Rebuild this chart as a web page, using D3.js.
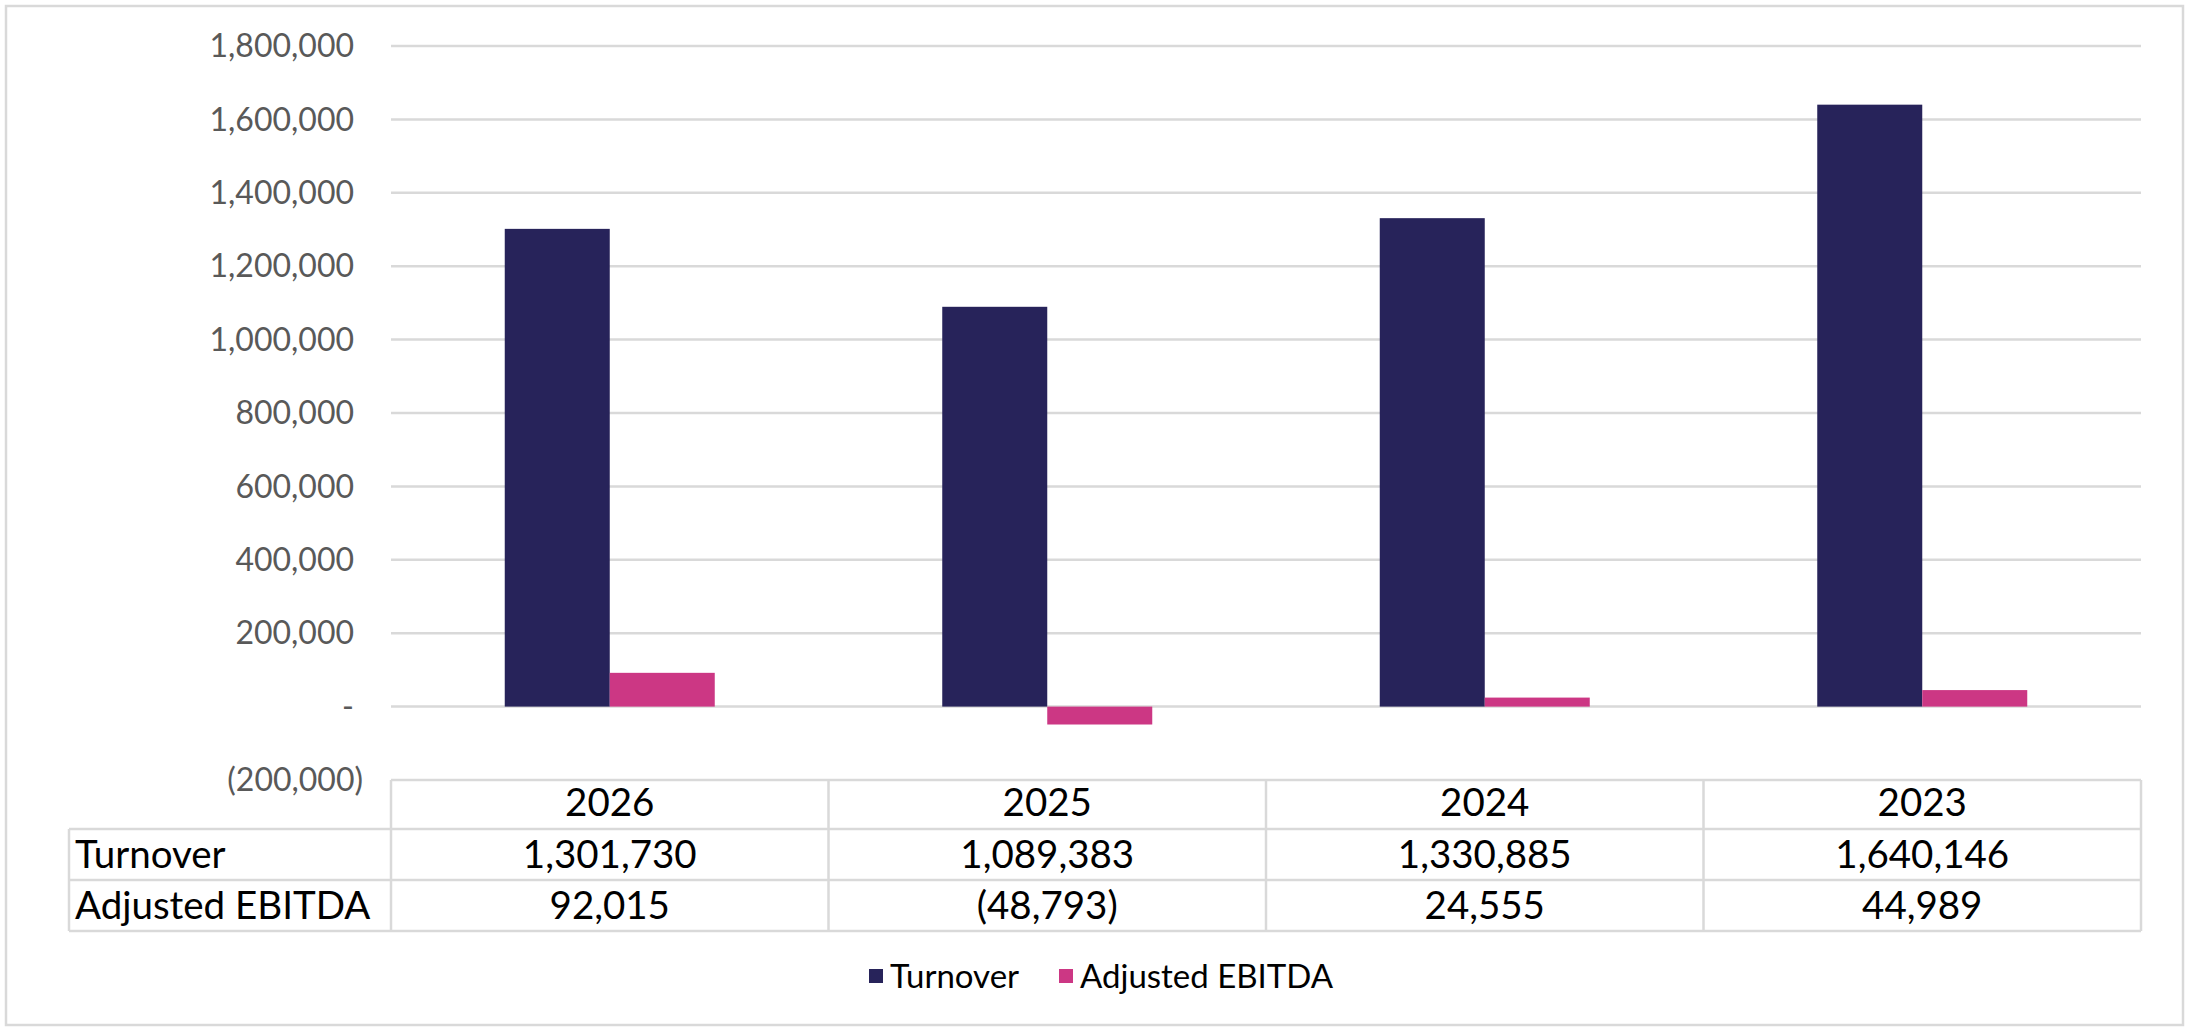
<!DOCTYPE html>
<html>
<head>
<meta charset="utf-8">
<script src="https://cdn.jsdelivr.net/npm/d3@7"></script>
<style>
  body { margin: 0; background: #fff; }
  svg text { font-family: Lato, "Open Sans", sans-serif; font-variant-numeric: tabular-nums; }
</style>
</head>
<body>
<div id="chart"></div>
<script>
// data
var years = ["2026", "2025", "2024", "2023"];
var seriesNames = ["Turnover", "Adjusted EBITDA"];
var turnover = [1301730, 1089383, 1330885, 1640146];
var ebitda = [92015, -48793, 24555, 44989];
var yTicks = [-200000, 0, 200000, 400000, 600000, 800000, 1000000, 1200000, 1400000, 1600000, 1800000];
var colors = ["#27235a", "#cc3784"];

var width = 2190, height = 1034;
var plotLeft = 391, plotRight = 2141, plotTop = 46, plotBottom = 780;
var labelLeft = 69;
var rowH = [49, 51, 51];

var svg = d3.select("#chart").append("svg")
  .attr("width", width)
  .attr("height", height);

// outer frame
svg.append("rect")
  .attr("x", 6).attr("y", 6)
  .attr("width", 2177).attr("height", 1019)
  .style("fill", "#fff")
  .style("stroke", "#d9d9d9")
  .style("stroke-width", 2.5);

var x = d3.scaleBand().domain(years).range([plotLeft, plotRight]);
var y = d3.scaleLinear().domain([-200000, 1800000]).range([plotBottom, plotTop]);

var fmt = d3.format(",");
function tickFmt(v) {
  if (v === 0) return "-";
  if (v < 0) return "(" + fmt(-v) + ")";
  return fmt(v);
}

// gridlines
svg.append("g").selectAll("line")
  .data(yTicks.filter(function(d) { return d > -200000; }))
  .enter().append("line")
  .attr("x1", plotLeft).attr("x2", plotRight)
  .attr("y1", function(d) { return y(d); })
  .attr("y2", function(d) { return y(d); })
  .style("stroke", "#d9d9d9")
  .style("stroke-width", 2.5);

// y axis labels (accounting style: negatives hang the closing paren)
svg.append("g").selectAll("text")
  .data(yTicks)
  .enter().append("text")
  .attr("x", function(d) { return d < 0 ? 363 : 354; })
  .attr("y", function(d) { return y(d); })
  .attr("dy", "0.35em")
  .attr("text-anchor", "end")
  .style("font-size", "32px")
  .style("fill", "#595959")
  .text(tickFmt);

// bars
var barW = x.bandwidth() * 0.24;
var values = [turnover, ebitda];
values.forEach(function(series, s) {
  svg.append("g").selectAll("rect")
    .data(series)
    .enter().append("rect")
    .attr("x", function(d, i) { return x(years[i]) + x.bandwidth() / 2 + (s - 1) * barW; })
    .attr("y", function(d) { return y(Math.max(0, d)); })
    .attr("width", barW)
    .attr("height", function(d) { return Math.abs(y(d) - y(0)); })
    .style("fill", colors[s]);
});

// data table
var tTop = plotBottom;
var r1 = tTop + rowH[0], r2 = r1 + rowH[1], r3 = r2 + rowH[2];
var grid = svg.append("g").style("stroke", "#d9d9d9").style("stroke-width", 2.5);
grid.append("line").attr("x1", plotLeft).attr("x2", plotRight).attr("y1", tTop).attr("y2", tTop);
[r1, r2, r3].forEach(function(yy) {
  grid.append("line").attr("x1", labelLeft).attr("x2", plotRight).attr("y1", yy).attr("y2", yy);
});
grid.append("line").attr("x1", labelLeft).attr("x2", labelLeft).attr("y1", r1).attr("y2", r3);
years.forEach(function(yr) {
  grid.append("line").attr("x1", x(yr)).attr("x2", x(yr)).attr("y1", tTop).attr("y2", r3);
});
grid.append("line").attr("x1", plotRight).attr("x2", plotRight).attr("y1", tTop).attr("y2", r3);

var tableFont = "38.5px";
svg.append("g").selectAll("text")
  .data(years)
  .enter().append("text")
  .attr("x", function(d) { return x(d) + x.bandwidth() / 2; })
  .attr("y", (tTop + r1) / 2)
  .attr("dy", "0.3em")
  .attr("text-anchor", "middle")
  .style("font-size", tableFont)
  .style("fill", "#000")
  .text(function(d) { return d; });

var rowsY = [(r1 + r2) / 2, (r2 + r3) / 2];
values.forEach(function(series, s) {
  svg.append("text")
    .attr("x", labelLeft + 6)
    .attr("y", rowsY[s])
    .attr("dy", "0.34em")
    .style("font-size", tableFont)
    .style("fill", "#000")
    .text(seriesNames[s]);
  svg.append("g").selectAll("text")
    .data(series)
    .enter().append("text")
    .attr("x", function(d, i) { return x(years[i]) + x.bandwidth() / 2; })
    .attr("y", rowsY[s])
    .attr("dy", "0.34em")
    .attr("text-anchor", "middle")
    .style("font-size", tableFont)
    .style("fill", "#000")
    .text(function(d) { return tickFmt(d); });
});

// legend
var legend = svg.append("g").attr("transform", "translate(869,976)");
var lx = [0, 190];
seriesNames.forEach(function(name, i) {
  var g = legend.append("g").attr("transform", "translate(" + lx[i] + ",0)");
  g.append("rect")
    .attr("x", 0).attr("y", -7)
    .attr("width", 14).attr("height", 14)
    .style("fill", colors[i]);
  g.append("text")
    .attr("x", 21).attr("y", 0)
    .attr("dy", "0.35em")
    .style("font-size", "33px")
    .style("fill", "#000")
    .text(name);
});
</script>
</body>
</html>
